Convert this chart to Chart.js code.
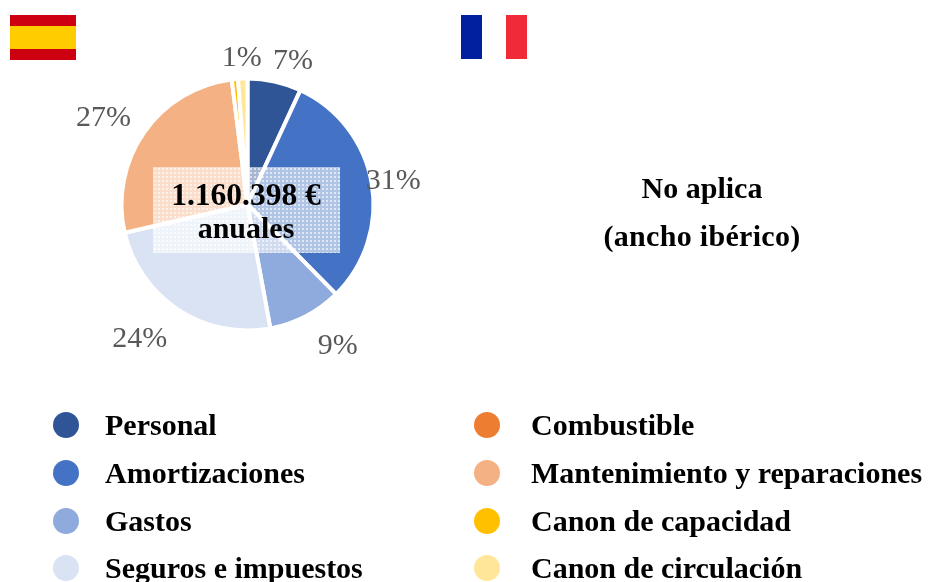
<!DOCTYPE html>
<html>
<head>
<meta charset="utf-8">
<script src="https://cdn.jsdelivr.net/npm/chart.js@4"></script>
<style>
    html, body { margin: 0; padding: 0; background: #fff; }
    #wrap { position: relative; width: 929px; height: 582px; overflow: hidden; font-family: "Liberation Serif", serif; }
    canvas { position: absolute; left: 0; top: 0; }
    .flag { position: absolute; top: 15px; width: 66px; }
    #flagEs { left: 10px; height: 45px; background: linear-gradient(#cc0011 0 11px, #ffcc00 11px 34px, #cc0011 34px); }
    #flagFr { left: 461px; height: 44px; background: linear-gradient(90deg, #00209f 0 21px, #fff 21px 45px, #f12a3a 45px); }
    #patch {
        position: absolute; left: 153px; top: 167px; width: 187px; height: 86px;
        background-color: rgba(255,255,255,0.58);
        background-image: radial-gradient(circle at 2px 2px, rgba(255,255,255,0.6) 1px, transparent 1.3px);
        background-size: 4px 4px;
    }
    .note { position: absolute; color: #000; font-weight: bold; font-size: 30px; line-height: 32px; text-align: center; white-space: nowrap; }
    .legendItem { position: absolute; color: #000; font-weight: bold; font-size: 30px; line-height: 34px; white-space: nowrap; }
    .legendDot { position: absolute; width: 26px; height: 26px; border-radius: 50%; }
</style>
</head>
<body>
<div id="wrap">
    <canvas id="pieChart" width="929" height="582"></canvas>
    <div class="flag" id="flagEs"></div>
    <div class="flag" id="flagFr"></div>
    <div id="patch"></div>
    <div class="note" style="left:146px;width:200px;top:179px;font-size:31.5px;">1.160.398 €</div>
    <div class="note" style="left:146px;width:200px;top:212px;">anuales</div>
    <div class="note" style="left:602px;width:200px;top:172px;">No aplica</div>
    <div class="note" style="left:602px;width:200px;top:220px;letter-spacing:0.3px;">(ancho ibérico)</div>
    <div id="legend"></div>
</div>
<script>
// datos
const categories = ['Personal', 'Amortizaciones', 'Gastos', 'Seguros e impuestos', 'Combustible', 'Mantenimiento y reparaciones', 'Canon de capacidad', 'Canon de circulación'];
const shares = [6.9, 30.7, 9.5, 24.3, 0, 26.6, 0.8, 1.2];
const percentLabels = ['7%', '31%', '9%', '24%', '', '27%', '', '1%'];
const sliceColors = ['#2f5597', '#4472c4', '#8faadc', '#dae3f3', '#ed7d31', '#f4b183', '#ffc000', '#ffe699'];

// ajuste fino de las etiquetas respecto al radio (px)
const labelNudge = [[12, 9], [-8, 3], [18, 3], [-22, 4], [0, 0], [-16, 3], [2, 9], [0, 10]];

const outsideLabels = {
    id: 'outsideLabels',
    afterDatasetsDraw(chart) {
        const ctx = chart.ctx;
        ctx.save();
        ctx.font = '30px "Liberation Serif"';
        ctx.fillStyle = '#595959';
        ctx.textAlign = 'center';
        ctx.textBaseline = 'middle';
        chart.getDatasetMeta(0).data.forEach((arc, i) => {
            if (!percentLabels[i]) return;
            const mid = (arc.startAngle + arc.endAngle) / 2;
            const r = arc.outerRadius + 30;
            ctx.fillText(percentLabels[i], arc.x + Math.cos(mid) * r + labelNudge[i][0], arc.y + Math.sin(mid) * r + labelNudge[i][1]);
        });
        ctx.restore();
    }
};

new Chart(document.getElementById('pieChart'), {
    type: 'pie',
    data: {
        labels: categories,
        datasets: [{
            data: shares,
            backgroundColor: sliceColors,
            borderColor: '#fff',
            borderWidth: 4
        }]
    },
    options: {
        responsive: false,
        animation: false,
        layout: { padding: { left: 119.5, right: 553.5, top: 76.5, bottom: 249.5 } },
        plugins: { legend: { display: false }, tooltip: { enabled: false } }
    },
    plugins: [outsideLabels]
});

// leyenda en dos columnas
const legend = document.getElementById('legend');
const rowTops = [425, 473, 521, 568];
categories.forEach((name, i) => {
    const col = i < 4 ? 0 : 1;
    const y = rowTops[i % 4];
    const dot = document.createElement('div');
    dot.className = 'legendDot';
    dot.style.left = (col ? 474 : 53) + 'px';
    dot.style.top = (y - 13) + 'px';
    dot.style.background = sliceColors[i];
    legend.appendChild(dot);
    const item = document.createElement('div');
    item.className = 'legendItem';
    item.style.left = (col ? 531 : 105) + 'px';
    item.style.top = (y - 17) + 'px';
    item.textContent = name;
    legend.appendChild(item);
});
</script>
</body>
</html>
